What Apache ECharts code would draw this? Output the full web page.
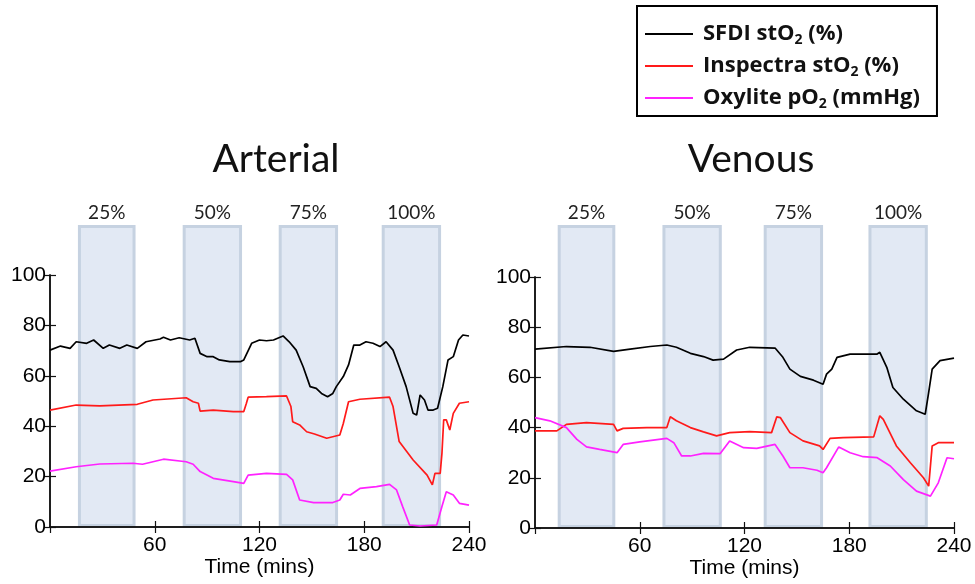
<!DOCTYPE html>
<html>
<head>
<meta charset="utf-8">
<script src="https://cdn.jsdelivr.net/npm/echarts@6/dist/echarts.min.js"></script>
<style>
html, body { margin: 0; padding: 0; background: #fff; }
#chart { width: 975px; height: 584px; }
</style>
</head>
<body>
<div id="chart"></div>
<script>
// series names (legend)
var seriesNames = ['SFDI stO2 (%)', 'Inspectra stO2 (%)', 'Oxylite pO2 (mmHg)'];
var seriesColors = ['#000000', '#ff1a1a', '#ff22ff'];

// occlusion windows [start, end] in minutes
var boxLabels = ['25%', '50%', '75%', '100%'];
var arterialBoxes = [[16, 49], [76, 110], [131, 165], [190, 224]];
var venousBoxes = [[13, 46], [73, 107], [131, 165], [191, 225]];

// arterial panel [time, value]
var arterialSfdi = [[0,70.2],[6,71.8],[11.5,70.9],[15,73.5],[21,72.9],[25,74.2],[30.5,70.9],[34,72.2],[40,70.9],[44,72.2],[50,70.9],[55,73.5],[63,74.6],[65,75.3],[69,74.2],[74,75.1],[80,74.2],[83,74.9],[86,68.9],[90,67.6],[93.5,67.6],[97,66.3],[103,65.6],[109,65.6],[111,66.3],[115.5,72.9],[120,74.2],[124,73.9],[128,74.2],[133.5,75.8],[137,73.5],[141,70.2],[145,63.6],[149,55.7],[152.5,55],[155.5,53],[159,51.7],[162,53],[164,55.7],[168,59.7],[171,64.3],[174,72.2],[177.5,72.2],[181,73.5],[185,72.9],[189,71.6],[192.5,73.5],[196.5,70.2],[200,63.6],[204,55.7],[208,45.1],[210,44.4],[212,52.4],[214.5,50.4],[216.5,46.4],[219.5,46.4],[222,47.1],[225,55.7],[228,66.3],[231,67.6],[234,74.2],[236.5,76.2],[240,75.8]];
var arterialInspectra = [[0,46.4],[15,48.4],[28.5,48.1],[50,48.7],[59,50.4],[78,51.3],[82,49.7],[85,49.1],[86,46],[93.5,46.4],[105,45.8],[111,45.8],[112.5,49.1],[113.5,51.5],[124,51.7],[135.5,52],[138,47.8],[139,41.8],[143,40.5],[147,37.8],[151.5,36.9],[158.5,35.2],[166,36.5],[168,41.1],[171,49.7],[177.5,50.7],[194.5,51.5],[196.5,47.8],[200,33.9],[208,26.6],[216,20.6],[219,16.7],[220.5,21.3],[223.5,21.3],[224.5,29.2],[225.5,42.5],[227,42.5],[229,38.5],[231,45.1],[234.5,49.1],[240,49.7]];
var arterialOxylite = [[0,22.2],[15,23.9],[28.5,25],[47.5,25.3],[53,24.9],[65,26.9],[78,25.9],[82,24.9],[86,22],[93.5,19.3],[105,18],[111,17.3],[113.5,20.6],[124,21.3],[135.5,20.9],[139,18.7],[143,10.7],[151,9.7],[162,9.7],[166,10.7],[168,13],[172,12.7],[177.5,15.3],[187,16],[194.5,16.9],[198.5,14.7],[202,8.1],[206,0.8],[212,0.4],[221.5,0.8],[224.5,8.1],[227,14],[231,12.7],[234.5,9.4],[240,8.7]];

// venous panel [time, value]
var venousSfdi = [[0,71.3],[18,72.3],[31.5,72],[45,70.4],[54.5,71.3],[66,72.3],[75.5,72.9],[81,72],[89,69.6],[96.5,68.3],[102,66.9],[108,67.3],[115.5,70.9],[123,72],[137.5,71.7],[142,68],[146,63.3],[152,60.4],[159.5,58.9],[165,57.3],[167,61.3],[170,63.3],[173,68],[180.5,69.3],[196,69.3],[197.5,70],[201.5,64],[205,56],[211,51.3],[218.5,46.7],[223.5,45.3],[225.5,54],[227.5,63.3],[232,66.7],[240,67.7]];
var venousInspectra = [[0,38.7],[12.5,38.7],[18,41.3],[29.5,42],[45,41.3],[47,38.7],[50.5,39.7],[64,40],[75.5,40],[77.5,44.3],[81,42.7],[89,40],[96.5,38.3],[104,36.7],[111.5,38],[123,38.4],[135.5,38],[138.5,44.3],[140.5,44],[146,38],[153.5,34.7],[163,32.7],[165,31.3],[169,35.7],[176.5,36],[194,36.3],[197.5,44.7],[199.5,43.3],[207,32.7],[215,26],[222.5,20],[225.5,16.7],[227.5,32.7],[231,34],[240,34]];
var venousOxylite = [[0,44],[8.5,42.7],[18,40],[24,35.3],[29.5,32.3],[37,31.3],[47,30],[50.5,33.3],[60,34.3],[75.5,35.7],[79.5,34],[84,28.7],[89,28.7],[96.5,29.7],[106,29.6],[111.5,34.7],[119.5,32],[127,31.7],[137.5,33.3],[142,28.7],[146,24],[153.5,24],[161.5,23],[165,22],[167,24],[174,32.3],[180.5,30],[188,28.4],[196,28],[203.5,24.7],[211,19.3],[218.5,14.7],[226.5,12.7],[231,18],[236,28],[240,27.6]];

var myChart = echarts.init(document.getElementById('chart'));

var labelFont = 'Liberation Sans';
var lineAxis = { show: true, lineStyle: { color: '#111', width: 1.5 } };
var inTick = { show: true, inside: true, length: 6, lineStyle: { color: '#111', width: 1.2 } };

function frameAxes(grid) {
    var xs = [{
        gridIndex: grid, type: 'value', min: 0, max: 240, interval: 60, z: 3,
        axisLine: lineAxis, axisTick: inTick, splitLine: { show: false },
        axisLabel: { showMinLabel: false, fontFamily: labelFont, fontSize: 21, color: '#000', margin: 8 },
        name: 'Time (mins)', nameLocation: 'middle', nameGap: 30,
        nameTextStyle: { fontFamily: labelFont, fontSize: 21, color: '#000' }
    }, {
        gridIndex: grid, type: 'value', position: 'top', min: 0, max: 240, interval: 60, z: 3,
        axisLine: lineAxis, axisTick: inTick, splitLine: { show: false }, axisLabel: { show: false }
    }];
    var ys = [{
        gridIndex: grid, type: 'value', min: 0, max: 100, interval: 20, z: 3,
        axisLine: lineAxis, axisTick: inTick, splitLine: { show: false },
        axisLabel: { fontFamily: labelFont, fontSize: 21, color: '#000', margin: 4 }
    }, {
        gridIndex: grid, type: 'value', position: 'right', min: 0, max: 100, interval: 20, z: 3,
        axisLine: lineAxis, axisTick: inTick, splitLine: { show: false }, axisLabel: { show: false }
    }];
    return { x: xs, y: ys };
}

var a0 = frameAxes(0), a1 = frameAxes(1);
var xAxes = a0.x.concat(a1.x).concat([
    { gridIndex: 2, type: 'value', min: 0, max: 240, show: false },
    { gridIndex: 3, type: 'value', min: 0, max: 240, show: false }
]);
var yAxes = a0.y.concat(a1.y).concat([
    { gridIndex: 2, type: 'value', min: 0, max: 1, show: false },
    { gridIndex: 3, type: 'value', min: 0, max: 1, show: false }
]);

function boxRenderer(params, api) {
    var p0 = api.coord([api.value(0), 1]);
    var p1 = api.coord([api.value(1), 0]);
    return {
        type: 'group',
        children: [{
            type: 'rect',
            shape: { x: p0[0] + 1.5, y: p0[1] + 1.5, width: p1[0] - p0[0] - 3, height: p1[1] - p0[1] - 3 },
            style: { fill: '#e2e9f4', stroke: '#c6d2e1', lineWidth: 3 }
        }, {
            type: 'text',
            x: (p0[0] + p1[0]) / 2, y: p0[1] - 12,
            style: { text: boxLabels[params.dataIndex], fill: '#222', font: '19px Lato', align: 'center', verticalAlign: 'middle' }
        }]
    };
}

function lineSeries(idx, data, axisBase) {
    return {
        name: seriesNames[idx], type: 'line', data: data,
        xAxisIndex: axisBase, yAxisIndex: axisBase,
        showSymbol: false, z: 5, silent: true,
        itemStyle: { color: seriesColors[idx] },
        lineStyle: { color: seriesColors[idx], width: 1.7 }
    };
}

var option = {
    animation: false,
    backgroundColor: '#fff',
    grid: [
        { left: 50, right: 506, top: 275, bottom: 57 },
        { left: 535, right: 21, top: 277, bottom: 56 },
        { left: 50, right: 506, top: 225, bottom: 57 },
        { left: 535, right: 21, top: 225, bottom: 56 }
    ],
    xAxis: xAxes,
    yAxis: yAxes,
    graphic: [
        { type: 'text', x: 276, y: 159, style: { text: 'Arterial', font: '39px Lato', fill: '#111', align: 'center', verticalAlign: 'middle' } },
        { type: 'text', x: 751, y: 159, style: { text: 'Venous', font: '39px Lato', fill: '#111', align: 'center', verticalAlign: 'middle' } }
    ],
    legend: {
        data: seriesNames,
        orient: 'vertical',
        left: 637, top: 6,
        icon: 'rect', itemWidth: 48, itemHeight: 2, itemGap: 6,
        padding: [15, 17, 5, 8],
        borderColor: '#000', borderWidth: 2,
        formatter: function (name) {
            return name.replace('O2', 'O{sub|2}');
        },
        textStyle: {
            fontFamily: 'Open Sans', fontWeight: 'bold', fontSize: 22, color: '#111',
            lineHeight: 26, padding: [0, 0, 0, 5],
            rich: {
                sub: { fontFamily: 'Open Sans', fontWeight: 'bold', fontSize: 14, color: '#111', lineHeight: 13, verticalAlign: 'bottom' }
            }
        }
    },
    series: [
        { type: 'custom', xAxisIndex: 4, yAxisIndex: 4, z: 1, silent: true, renderItem: boxRenderer, data: arterialBoxes, encode: { x: [0, 1] } },
        { type: 'custom', xAxisIndex: 5, yAxisIndex: 5, z: 1, silent: true, renderItem: boxRenderer, data: venousBoxes, encode: { x: [0, 1] } },
        lineSeries(0, arterialSfdi, 0),
        lineSeries(1, arterialInspectra, 0),
        lineSeries(2, arterialOxylite, 0),
        lineSeries(0, venousSfdi, 2),
        lineSeries(1, venousInspectra, 2),
        lineSeries(2, venousOxylite, 2)
    ]
};

myChart.setOption(option, true);
</script>
</body>
</html>
